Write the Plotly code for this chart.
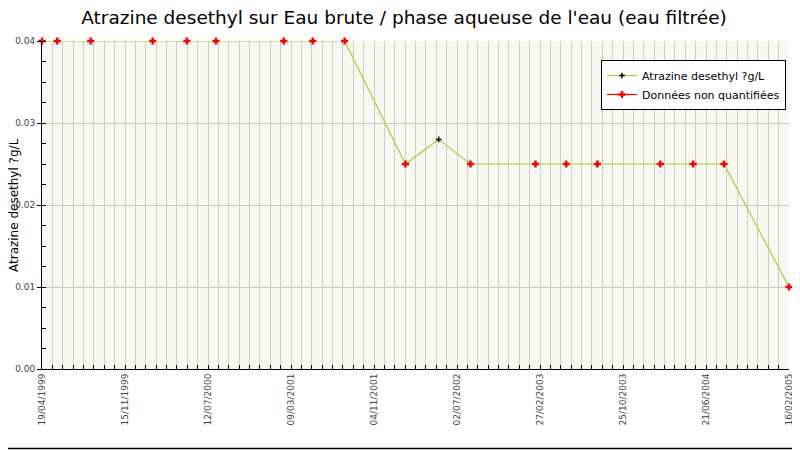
import datetime as dt
import plotly.graph_objects as go

# sampling dates and measured values (µg/L)
dates = ["1999-03-20", "1999-05-03", "1999-08-08", "2000-02-03", "2000-05-12",
         "2000-08-04", "2001-02-16", "2001-05-11", "2001-08-11", "2002-02-03",
         "2002-05-10", "2002-08-10", "2003-02-14", "2003-05-14", "2003-08-12",
         "2004-02-10", "2004-05-15", "2004-08-12", "2005-02-16"]
values = [0.04, 0.04, 0.04, 0.04, 0.04, 0.04, 0.04, 0.04, 0.04, 0.025,
          0.028, 0.025, 0.025, 0.025, 0.025, 0.025, 0.025, 0.025, 0.01]
# 1 = below quantification limit
non_quant = [1, 1, 1, 1, 1, 1, 1, 1, 1, 1, 0, 1, 1, 1, 1, 1, 1, 1, 1]

tick_labels = ["19/04/1999", "15/11/1999", "12/07/2000", "09/03/2001", "04/11/2001",
               "02/07/2002", "27/02/2003", "25/10/2003", "21/06/2004", "16/02/2005"]

start = dt.date(1999, 3, 20)
tick_vals = [(start + dt.timedelta(days=240 * i)).isoformat() for i in range(len(tick_labels))]

# red markers, with gaps so the line only shows in the legend
nq_x, nq_y = [], []
for d, v, f in zip(dates, values, non_quant):
    if f:
        nq_x += [d, None]
        nq_y += [v, None]

# page has an 8px body margin, so the figure is drawn 8px smaller and offset
off = 8
W, H = 800 - off, 450 - off
ml, mr, mt, mb = 42 - off, 11, 41 - off, 81
pw, ph = W - ml - mr, H - mt - mb


def px(x):
    return (x - off - ml) / pw


def py(y):
    return 1 - (y - off - mt) / ph


fig = go.Figure()
fig.add_trace(go.Scatter(
    x=dates, y=values, mode="lines+markers", name="Atrazine desethyl ?g/L",
    line=dict(color="#a4d034", width=1.2),
    marker=dict(symbol="cross-thin", size=4, color="black",
                line=dict(color="black", width=1.5)),
    cliponaxis=False,
))
fig.add_trace(go.Scatter(
    x=nq_x, y=nq_y, mode="lines+markers", name="Données non quantifiées",
    connectgaps=False,
    line=dict(color="red", width=1.2),
    marker=dict(symbol="cross", size=6, color="red"),
    cliponaxis=False,
))

# legend shadow and outer frame
fig.add_shape(type="rect", xref="paper", yref="paper",
              x0=px(605), x1=px(786), y0=py(105), y1=py(65),
              fillcolor="#c8c8c8", line=dict(width=0), layer="above")
fig.add_shape(type="rect", xref="paper", yref="paper",
              x0=px(-20), x1=px(798.5), y0=py(448.5), y1=py(-20),
              line=dict(color="black", width=1.5))

# y axis title as an annotation so it doesn't push the margin
fig.add_annotation(text="Atrazine desethyl ?g/L", textangle=-90,
                   xref="paper", yref="paper", x=px(14), y=py(205),
                   xanchor="center", yanchor="middle", showarrow=False,
                   font=dict(size=12, color="black"))

fig.update_layout(
    width=W, height=H,
    margin=dict(l=ml, r=mr, t=mt, b=mb),
    paper_bgcolor="white", plot_bgcolor="#f8f8f0",
    font=dict(family="DejaVu Sans", color="#222"),
    title=dict(text="Atrazine desethyl sur Eau brute / phase aqueuse de l'eau (eau filtrée)",
               x=0.5, xanchor="center", y=1 - (18 - off) / H, yanchor="middle",
               font=dict(size=18.5, color="black")),
    showlegend=True,
    legend=dict(x=px(601), y=py(60), xanchor="left", yanchor="top",
                bgcolor="white", bordercolor="black", borderwidth=1,
                font=dict(size=11, color="black"), tracegroupgap=0,
                itemwidth=30),
    xaxis=dict(type="date", range=[tick_vals[0], tick_vals[-1]], automargin=False,
               tickvals=tick_vals, ticktext=tick_labels, tickangle=-90,
               tickfont=dict(size=9, color="#444"),
               ticks="inside", ticklen=4, tickcolor="black",
               showline=True, linecolor="black", linewidth=1,
               showgrid=True, gridcolor="#cccccc", gridwidth=1, zeroline=False,
               minor=dict(dtick=30 * 86400000, tick0=tick_vals[0], showgrid=True,
                          gridcolor="#cccccc", gridwidth=1,
                          ticks="inside", ticklen=4, tickcolor="black")),
    yaxis=dict(range=[0, 0.04], dtick=0.01, tickformat=".2f", automargin=False,
               tickfont=dict(size=9, color="#444"),
               ticks="outside", ticklen=4, tickcolor="black",
               showline=True, linecolor="black", linewidth=1,
               showgrid=True, gridcolor="#cccccc", zeroline=False,
               minor=dict(dtick=0.0025, ticks="inside", ticklen=4, tickcolor="black",
                          showgrid=False)),
)

fig.write_html("out.html")
